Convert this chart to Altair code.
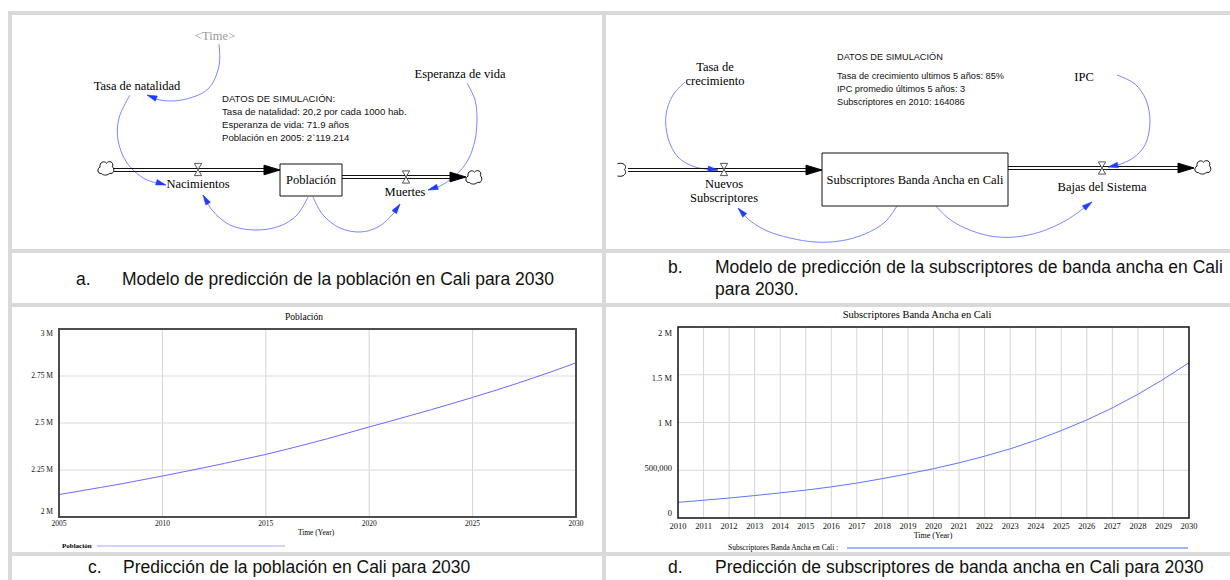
import math
import altair as alt
import pandas as pd

# ---------------------------------------------------------------- series ---
# Simulated population of Cali, 2005-2030
years_pop = list(range(2005, 2031))
poblacion = [2119214, 2138000, 2157000, 2176000, 2197000, 2218000, 2240000,
             2262000, 2285000, 2309000, 2333000, 2360000, 2388000, 2417000,
             2448000, 2479000, 2509000, 2540000, 2571000, 2603000, 2636000,
             2670000, 2705000, 2742000, 2780000, 2820000]

# Simulated broadband subscribers in Cali, 2010-2030
years_sub = list(range(2010, 2031))
subscriptores = [164086, 186000, 209000, 235000, 263000, 292000, 326000,
                 366000, 412000, 463000, 516000, 578000, 647000, 724000,
                 814000, 915000, 1027000, 1153000, 1295000, 1453000, 1626000]

pop_y_ticks = [2000000, 2250000, 2500000, 2750000, 3000000]
pop_y_labels = ["2 M", "2.25 M", "2.5 M", "2.75 M", "3 M"]
pop_x_ticks = [2005, 2010, 2015, 2020, 2025, 2030]

sub_y_ticks = [0, 500000, 1000000, 1500000, 2000000]
sub_y_labels = ["0", "500,000", "1 M", "1.5 M", "2 M"]
sub_x_ticks = list(range(2010, 2031))

SERIF = "Liberation Serif"
SANS = "Liberation Sans"
GRAY = "#d9d9d9"
BLUE_LINK = "#7a88ff"
BLUE_HEAD = "#1f3cff"

# ------------------------------------------------------ page coordinates ---
PX = alt.Scale(domain=[0, 1230], range=[0, 1230], nice=False, zero=False)
PY = alt.Scale(domain=[0, 580], range=[0, 580], nice=False, zero=False)


def px(f):
    return alt.X(f, type="quantitative", scale=PX, axis=None)


def py(f):
    return alt.Y(f, type="quantitative", scale=PY, axis=None)


def texts(rows, font, size, color="#000000", align="center", weight="normal"):
    df = pd.DataFrame(rows, columns=["t", "x", "y"])
    return alt.Chart(df).mark_text(
        font=font, fontSize=size, color=color, align=align,
        baseline="middle", fontWeight=weight,
    ).encode(x=px("x"), y=py("y"), text="t:N")


def symbols(rows, shape, size, fill, stroke, filled=True, stroke_width=1.0):
    df = pd.DataFrame(rows, columns=["x", "y", "ang"])
    mark = dict(shape=shape, size=size, filled=filled, strokeWidth=stroke_width,
                opacity=1)
    if filled:
        mark.update(fill=fill, fillOpacity=1, stroke=stroke)
    else:
        mark.update(color=stroke)
    return alt.Chart(df).mark_point(**mark).encode(
        x=px("x"), y=py("y"), angle=alt.Angle("ang:Q", scale=None))


# table grid lines
cells = pd.DataFrame([
    dict(x=8, x2=1230, y=11, y2=15),
    dict(x=8, x2=1230, y=249, y2=253),
    dict(x=8, x2=1230, y=303, y2=307),
    dict(x=8, x2=1230, y=552, y2=556),
    dict(x=8, x2=12, y=11, y2=580),
    dict(x=602, x2=606, y=11, y2=580),
])
grid_layer = alt.Chart(cells).mark_rect(color=GRAY).encode(
    x=px("x"), x2="x2", y=py("y"), y2="y2")

# stock boxes
boxes = pd.DataFrame([
    dict(x=280, x2=342, y=164, y2=196),
    dict(x=822, x2=1008, y=153, y2=206),
])
box_layer = alt.Chart(boxes).mark_rect(
    fill="white", stroke="#111111", strokeWidth=1).encode(
    x=px("x"), x2="x2", y=py("y"), y2="y2")

# flow pipes (double lines)
pipes = pd.DataFrame([
    dict(x=113, x2=266, y=168.5), dict(x=113, x2=266, y=171.5),
    dict(x=342, x2=452, y=175.5), dict(x=342, x2=452, y=178.5),
    dict(x=628, x2=808, y=168.5), dict(x=628, x2=808, y=171.5),
    dict(x=1008, x2=1180, y=166.5), dict(x=1008, x2=1180, y=169.5),
])
pipe_layer = alt.Chart(pipes).mark_rule(color="#111111", strokeWidth=1).encode(
    x=px("x"), x2="x2", y=py("y"))

HEAD = "M0,0L-2,-0.6L-2,0.6Z"
flow_heads = symbols([(280, 170, 0), (466, 177, 0), (822, 170, 0), (1194, 168, 0)],
                     HEAD, 256, "#000000", "#000000")

VALVE = "M-0.6,-1L0.6,-1L-0.6,1L0.6,1Z"
valves = symbols([(198, 169.5, 0), (406, 177, 0), (724, 169.5, 0), (1102, 168, 0)],
                 VALVE, 150, "white", "#444444", stroke_width=0.9)

CLOUD = ("M-0.55,0.7C-1.1,0.75 -1.15,0.05 -0.75,-0.1C-0.85,-0.75 -0.2,-0.95 0.05,-0.6"
         "C0.35,-1 1.05,-0.75 0.8,-0.15C1.15,0.15 0.95,0.85 0.45,0.65"
         "C0.25,0.95 -0.35,0.95 -0.55,0.7Z")
clouds = symbols([(106, 168, 0), (474, 177, 0), (1203, 167, 0)],
                 CLOUD, 256, "white", "#111111")
HALF_CLOUD = "M-0.3,-0.8C0.5,-1 0.95,-0.45 0.55,-0.05C0.95,0.35 0.5,0.95 -0.3,0.75"
half_cloud = symbols([(620, 170, 0)], HALF_CLOUD, 256, "white", "#111111",
                     filled=False)

# information links (curved arrows)
links = {
    "time_tasa": [(219, 44), (219, 66), (208, 89), (182, 100), (160, 100), (147, 95)],
    "tasa_nac": [(130, 95), (119, 118), (118, 140), (127, 163), (145, 179), (166, 185)],
    "pob_nac": [(308, 197), (297, 215), (280, 226), (255, 230), (230, 225),
                (212, 210), (203, 195)],
    "pob_mue": [(313, 197), (323, 215), (340, 228), (360, 232), (378, 227),
                (393, 214), (400, 204)],
    "esp_mue": [(467, 83), (475, 100), (477, 118), (475, 140), (468, 160),
                (455, 176), (440, 186), (428, 190)],
    "tasa_nuevos": [(685, 82), (673, 95), (666, 115), (668, 138), (678, 157),
                    (695, 167), (718, 170)],
    "box_nuevos": [(897, 206), (885, 222), (865, 234), (840, 241), (815, 242),
                   (790, 238), (765, 230), (748, 219), (738, 208)],
    "ipc_bajas": [(1117, 75), (1135, 84), (1146, 100), (1150, 122), (1145, 145),
                  (1133, 158), (1118, 165), (1108, 167)],
    "box_bajas": [(935, 205), (948, 218), (965, 228), (990, 236), (1015, 237),
                  (1040, 232), (1065, 221), (1080, 211), (1092, 202)],
}
link_rows = []
head_rows = []
for cid, pts in links.items():
    for i, (x, y) in enumerate(pts):
        link_rows.append(dict(cid=cid, i=i, x=x, y=y))
    (x0, y0), (x1, y1) = pts[-2], pts[-1]
    head_rows.append((x1, y1, math.degrees(math.atan2(y1 - y0, x1 - x0)) % 360))

link_layer = alt.Chart(pd.DataFrame(link_rows)).mark_line(
    interpolate="catmull-rom", color=BLUE_LINK, strokeWidth=1).encode(
    x=px("x"), y=py("y"), detail="cid:N", order="i:Q")
link_heads = symbols(head_rows, "M0,0L-2,-0.55L-2,0.55Z", 100, BLUE_HEAD, BLUE_HEAD,
                     stroke_width=0.5)

var_labels = texts([
    ("Población", 311, 180), ("Nacimientos", 198, 184), ("Muertes", 405, 192),
    ("Tasa de natalidad", 137, 86), ("Esperanza de vida", 460, 74),
    ("Tasa de", 715, 67), ("crecimiento", 715, 81),
    ("Nuevos", 724, 184), ("Subscriptores", 724, 198),
    ("Subscriptores Banda Ancha en Cali", 915, 180), ("IPC", 1084, 77),
    ("Bajas del Sistema", 1102, 187),
], SERIF, 12.5)
shadow_label = texts([("<Time>", 215, 36)], SERIF, 12.5, color="#9a9a9a")

notes = alt.layer(
    texts([
        ("DATOS DE SIMULACIÓN:", 222, 99),
        ("Tasa de natalidad: 20,2 por cada 1000 hab.", 222, 112),
        ("Esperanza de vida: 71.9 años", 222, 125),
        ("Población en 2005: 2`119.214", 222, 138),
    ], SANS, 9.6, color="#111111", align="left"),
    texts([
        ("DATOS DE SIMULACIÓN", 837, 57),
        ("Tasa de crecimiento ultimos 5 años: 85%", 837, 76),
        ("IPC promedio últimos 5 años: 3", 837, 89),
        ("Subscriptores en 2010: 164086", 837, 102),
    ], SANS, 9.2, color="#111111", align="left"),
)

captions = texts([
    ("a.", 76, 280), ("Modelo de predicción de la población en Cali para 2030", 122, 280),
    ("b.", 668, 268),
    ("Modelo de predicción de la subscriptores de banda ancha en Cali", 715, 268),
    ("para 2030.", 715, 290),
    ("c.", 88, 568), ("Predicción de la población en Cali para 2030", 123, 568),
    ("d.", 668, 568),
    ("Predicción de subscriptores de banda ancha en Cali para 2030", 715, 568),
], SANS, 17.5, color="#111111", align="left")

panel_titles = alt.layer(
    texts([("Población", 304, 317)], SERIF, 9.5),
    texts([("Subscriptores Banda Ancha en Cali", 917, 315)], SERIF, 10.5),
    texts([("Time (Year)", 316, 533)], SERIF, 7.5),
    texts([("Time (Year)", 933, 536)], SERIF, 8),
    texts([("Población", 62, 546)], SERIF, 7, align="left", weight="bold"),
    texts([("Subscriptores Banda Ancha en Cali :", 728, 548)], SERIF, 7.5, align="left"),
)
legend_lines = alt.Chart(pd.DataFrame([
    dict(x=97, x2=285, y=546, c="#a4a4ff"),
    dict(x=847, x2=1188, y=548, c="#4a6cff"),
])).mark_rule(strokeWidth=1).encode(
    x=px("x"), x2="x2", y=py("y"), color=alt.Color("c:N", scale=None))

page = alt.layer(
    link_layer, pipe_layer, box_layer, flow_heads, valves, clouds, half_cloud,
    link_heads, var_labels, shadow_label, notes, captions, panel_titles,
    legend_lines, grid_layer,
)


# ------------------------------------------------------------ line panels ---
def line_panel(years, values, xticks, yticks, ylabels, xrange, yrange,
               grid_years, label_dy, line_color, frame_color, frame_width,
               font_size, xlabel_dy):
    xs = alt.Scale(domain=[years[0], years[-1]], range=xrange, nice=False, zero=False)
    ys = alt.Scale(domain=[yticks[0], yticks[-1]], range=yrange, nice=False, zero=False)

    def X(f):
        return alt.X(f, type="quantitative", scale=xs, axis=None)

    def Y(f):
        return alt.Y(f, type="quantitative", scale=ys, axis=None)

    series = pd.DataFrame({"year": years, "value": values})
    vgrid = pd.DataFrame({"year": grid_years, "lo": yticks[0], "hi": yticks[-1]})
    hgrid = pd.DataFrame({"v": yticks[1:-1], "a": years[0], "b": years[-1]})
    frame = pd.DataFrame({"a": [years[0]], "b": [years[-1]],
                          "lo": [yticks[0]], "hi": [yticks[-1]]})

    layers = [
        alt.Chart(vgrid).mark_rule(color="#d4d4d4", strokeWidth=1).encode(
            x=X("year"), y=Y("lo"), y2="hi"),
        alt.Chart(hgrid).mark_rule(color="#dadada", strokeWidth=1).encode(
            y=Y("v"), x=X("a"), x2="b"),
        alt.Chart(series).mark_line(color=line_color, strokeWidth=1).encode(
            x=X("year"), y=Y("value")),
        alt.Chart(frame).mark_rect(fillOpacity=0, stroke=frame_color,
                                   strokeWidth=frame_width).encode(
            x=X("a"), x2="b", y=Y("lo"), y2="hi"),
        alt.Chart(pd.DataFrame({"year": xticks, "lo": yticks[0],
                                "t": [str(v) for v in xticks]})).mark_text(
            font=SERIF, fontSize=font_size, color="#111111", dy=xlabel_dy,
            baseline="middle").encode(x=X("year"), y=Y("lo"), text="t:N"),
    ]
    ylab = pd.DataFrame({"v": yticks, "t": ylabels, "a": years[0], "dy": label_dy})
    for dy in sorted(set(label_dy)):
        layers.append(
            alt.Chart(ylab[ylab["dy"] == dy]).mark_text(
                font=SERIF, fontSize=font_size, color="#111111", align="right",
                baseline="middle", dx=-6, dy=dy).encode(
                x=X("a"), y=Y("v"), text="t:N"))
    return alt.layer(*layers)


panel_c = line_panel(years_pop, poblacion, pop_x_ticks, pop_y_ticks, pop_y_labels,
                     [59, 576], [517, 329], pop_x_ticks[1:-1], [-5, 0, 0, 0, 5],
                     "#6a6aff", "#4d4d4d", 2, 7.5, 7)
panel_d = line_panel(years_sub, subscriptores, sub_x_ticks, sub_y_ticks, sub_y_labels,
                     [678, 1189], [518, 327], sub_x_ticks[1:-1], [-5, -2, 0, 3, 6],
                     "#5a78ff", "#111111", 1.5, 8.5, 8)

chart = alt.layer(page, panel_c, panel_d).resolve_scale(
    x="independent", y="independent"
).properties(
    width=1230, height=580, autosize="none", padding=0, background="white"
).configure_view(stroke=None)

chart.save("out.html", embed_options={"renderer": "svg", "actions": False})
